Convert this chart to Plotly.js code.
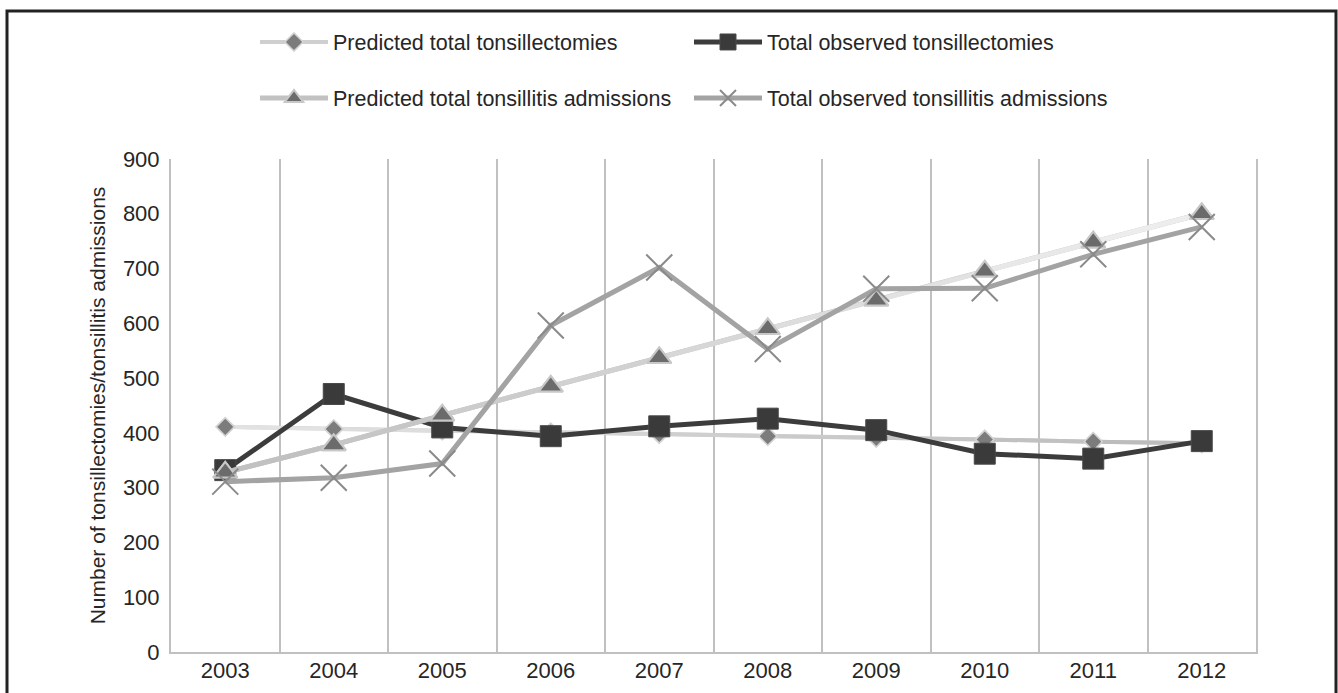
<!DOCTYPE html>
<html>
<head>
<meta charset="utf-8">
<script src="https://cdn.plot.ly/plotly-3.0.1.min.js"></script>
<style>
  html, body { margin: 0; padding: 0; background: #fff; }
  #chart { width: 1338px; height: 693px; }
</style>
</head>
<body>
<div id="chart"></div>
<script>
// Yearly counts, 2003-2012
const years = ['2003', '2004', '2005', '2006', '2007', '2008', '2009', '2010', '2011', '2012'];
const predictedTonsillectomies = [411, 407, 404, 401, 398, 394, 391, 388, 384, 381];
const observedTonsillectomies  = [332, 471, 410, 394, 412, 426, 405, 362, 353, 385];
const predictedAdmissions      = [328, 378, 432, 485, 537, 590, 642, 695, 748, 800];
const observedAdmissions       = [311, 318, 344, 596, 702, 553, 663, 664, 726, 776];

const seriesNames = [
  'Predicted total tonsillectomies',
  'Total observed tonsillectomies',
  'Predicted total tonsillitis admissions',
  'Total observed tonsillitis admissions'
];
const yTickValues = [0, 100, 200, 300, 400, 500, 600, 700, 800, 900];
const yTitle = 'Number of tonsillectomies/tonsillitis admissions';

const FONT = '"Liberation Sans", Arial, sans-serif';
const TEXT = '#262626';

// Figure geometry (pixels)
const W = 1338, H = 693, ML = 171, MR = 82, MT = 159, MB = 41;
const PW = W - ML - MR, PH = H - MT - MB;
const px = x => (x - ML) / PW;
const py = y => (H - MB - y) / PH;

// Lines that fade from one grey to another along the series
function mix(c0, c1, t) {
  return 'rgb(' + [0, 1, 2].map(i => Math.round(c0[i] + (c1[i] - c0[i]) * t)).join(',') + ')';
}
function fadingLine(values, c0, c1, width) {
  const segs = [];
  const n = values.length - 1;
  for (let i = 0; i < n; i++) {
    segs.push({
      type: 'scatter', mode: 'lines',
      x: [years[i], years[i + 1]], y: [values[i], values[i + 1]],
      line: { color: mix(c0, c1, (i + 0.5) / n), width: width },
      showlegend: false, hoverinfo: 'skip'
    });
  }
  return segs;
}

const diamondMarker = { symbol: 'diamond', size: 14, color: '#7c7c7c', line: { color: '#d4d4d4', width: 1.5 } };
const squareMarker = { symbol: 'square', size: 21, color: '#3a3a3a', line: { color: '#4a4a4a', width: 1 } };
const triangleMarker = { symbol: 'triangle-up', size: 21, color: '#6b6b6b', line: { color: '#c8c8c8', width: 2 } };
const crossMarker = { symbol: 'x-thin-open', size: 26, color: '#8a8a8a', line: { color: '#8a8a8a', width: 2 } };

const traces = [];

// Predicted tonsillectomies: light line darkening to the right, grey diamonds
traces.push({
  type: 'scatter', mode: 'lines+markers', name: seriesNames[0], legend: 'legend',
  x: years, y: predictedTonsillectomies,
  line: { color: '#cfcfcf', width: 4 }, marker: diamondMarker
});
traces.push(...fadingLine(predictedTonsillectomies, [228, 228, 228], [186, 186, 186], 4));
traces.push({
  type: 'scatter', mode: 'markers', x: years, y: predictedTonsillectomies, showlegend: false,
  marker: diamondMarker
});

// Observed tonsillectomies: dark line, dark squares
traces.push({
  type: 'scatter', mode: 'lines+markers', name: seriesNames[1], legend: 'legend2',
  x: years, y: observedTonsillectomies,
  line: { color: '#3c3c3c', width: 5 }, marker: squareMarker
});

// Predicted admissions: grey line fading to near white, triangles
traces.push({
  type: 'scatter', mode: 'lines+markers', name: seriesNames[2], legend: 'legend3',
  x: years, y: predictedAdmissions,
  line: { color: '#c2c2c2', width: 5 }, marker: triangleMarker
});
traces.push(...fadingLine(predictedAdmissions, [190, 190, 190], [240, 240, 240], 5));
traces.push({
  type: 'scatter', mode: 'markers', x: years, y: predictedAdmissions, showlegend: false,
  marker: triangleMarker
});

// Observed admissions: mid grey line, thin crosses
traces.push({
  type: 'scatter', mode: 'lines+markers', name: seriesNames[3], legend: 'legend4',
  x: years, y: observedAdmissions,
  line: { color: '#a3a3a3', width: 5 }, marker: crossMarker
});

function legendAt(xPix, yPix) {
  return {
    x: px(xPix), y: py(yPix), xanchor: 'left', yanchor: 'middle',
    orientation: 'h', itemwidth: 68, itemclick: false, itemdoubleclick: false,
    bgcolor: 'rgba(0,0,0,0)', borderwidth: 0,
    font: { family: FONT, size: 21.5, color: TEXT }
  };
}

const layout = {
  width: W, height: H,
  margin: { l: ML, r: MR, t: MT, b: MB, autoexpand: false },
  paper_bgcolor: '#fff', plot_bgcolor: '#fff',
  font: { family: FONT, size: 21, color: TEXT },
  showlegend: true,
  legend: legendAt(255, 42),
  legend2: legendAt(689, 42),
  legend3: legendAt(255, 98),
  legend4: legendAt(689, 98),
  xaxis: {
    type: 'category', categoryorder: 'array', categoryarray: years,
    range: [-0.5, years.length - 0.5],
    tickson: 'boundaries', ticks: '', showgrid: true, gridcolor: '#c0c0c0', gridwidth: 2,
    showline: true, linecolor: '#c0c0c0', linewidth: 2, zeroline: false,
    tickfont: { family: FONT, size: 22, color: TEXT }, ticklabelstandoff: -2,
    fixedrange: true
  },
  yaxis: {
    range: [0, 900], tickvals: yTickValues, ticks: '', showgrid: false, zeroline: false,
    showline: true, mirror: true, linecolor: '#c0c0c0', linewidth: 2,
    tickfont: { family: FONT, size: 22, color: TEXT }, ticklabelstandoff: 5,
    title: { text: yTitle, font: { family: FONT, size: 21, color: TEXT }, standoff: 12 },
    fixedrange: true
  },
  shapes: [{
    // Frame around the figure
    type: 'path', xref: 'paper', yref: 'paper',
    path: 'M ' + px(7) + ' ' + py(H + 10) + ' L ' + px(7) + ' ' + py(11) +
          ' L ' + px(1336) + ' ' + py(11) + ' L ' + px(1336) + ' ' + py(H + 10),
    line: { color: '#222', width: 3 }
  }]
};

Plotly.newPlot('chart', traces, layout, { displayModeBar: false, staticPlot: true });
</script>
</body>
</html>
